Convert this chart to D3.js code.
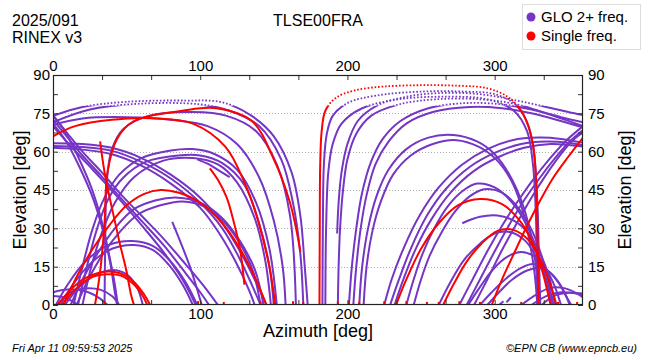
<!DOCTYPE html>
<html><head><meta charset="utf-8">
<script src="https://cdn.jsdelivr.net/npm/d3@7"></script>
<style>body{margin:0;background:#fff}svg{display:block;font-family:"Liberation Sans",Arial,sans-serif}</style>
</head><body><svg id="c" width="650" height="360"></svg>
<script>
// ---- data: satellite tracks as [azimuth, elevation] samples ----
const gloTracks = [
  [[0,74],[20,77.5],[50,79.5],[90,80],[115,79.3],[135,74],[150,66],[162,52],[168,35],[171,15],[173,0]],
  [[0,71.5],[25,76.5],[60,78.8],[100,78.5],[120,76],[140,70],[155,57],[163,40],[168,20],[170,0]],
  [[35,0],[35.5,25],[36.5,48],[40,61],[48,69],[65,74],[95,75.5],[118,74],[138,68],[152,55],[161,35],[165,0]],
  [[0,70.5],[20,73],[50,73.5],[80,72.5],[105,70],[125,63],[140,50],[150,33],[156,15],[158,0]],
  [[14,0],[20,15],[27,30],[35,42],[45,51],[60,57.5],[80,60.5],[95,61],[110,59],[125,53],[138,40],[147,22],[152,0]],
  [[17,0],[23,15],[30,30],[38,42],[48,50],[63,56],[85,58.5],[100,58.5],[115,55.5],[130,47],[140,32],[147,15],[150,0]],
  [[20,0],[26,15],[33,28],[42,40],[55,50],[75,56.5],[95,57.5],[112,55],[125,48],[137,34],[144,18],[148,0]],
  [[98,57],[106,55],[113,52.5],[120,50]],
  [[12,0],[20,10],[30,20],[42,30],[55,37.5],[70,41],[85,42],[100,40],[115,34],[127,25],[137,14],[143,0]],
  [[16,0],[24,10],[34,20],[46,29],[58,35.5],[73,39],[88,40.5],[103,38.5],[117,32],[128,23],[136,13],[141,0]],
  [[81,32.5],[87,24],[93,15],[98,6],[101,0]],
  [[2,0],[10,8],[22,17],[38,23.5],[54,25],[68,23],[80,17],[90,9],[98,0]],
  [[5,0],[13,7.5],[25,16],[40,22],[55,23.5],[68,21.5],[79,15.5],[88,8],[95,0]],
  [[8,0],[18,7],[28,11.5],[40,13.7],[50,12],[57,7],[61,0]],
  [[0,5],[8,6],[16,6],[24,5],[32,2.5],[37,0]],
  [[3,0],[12,5],[22,6.5],[32,6],[40,3.5],[45,0]],
  [[0,3.5],[7,3],[13,1.5],[17,0]],
  [[0,63.3],[20,63],[40,61.5],[60,57.5],[80,51],[100,42],[115,32],[127,21],[137,10],[145,0]],
  [[0,62.2],[20,61.8],[40,60.3],[60,56],[80,49.5],[100,40],[115,30],[126,19],[135,8],[141,0]],
  [[0,61.5],[20,60.8],[40,59],[60,54.5],[80,47.5],[100,38],[113,28],[124,17],[133,6],[137,0]],
  [[0,74.3],[10,67],[20,60],[33,52],[45,44],[60,35],[75,26],[90,16],[103,7],[112,0]],
  [[0,72.5],[10,65.5],[20,58.5],[32,51],[45,42.5],[60,33],[75,23.5],[88,14],[100,5],[106,0]],
  [[0,70],[10,63.5],[22,56],[35,48],[48,39.5],[62,30],[76,20],[88,10],[97,0]],
  [[0,74],[8,68],[17,58],[26,46],[33,33],[38,20],[42,8],[44,0]],
  [[0,71],[9,64],[18,54],[27,42],[34,29],[39,16],[42,5],[43.5,0]],
  [[183,0],[183.3,30],[184,55],[186,67],[190,74],[200,79],[220,82],[250,83.5],[280,83.5],[300,82.5],[315,78],[323,70],[327,58],[329,40],[330,20],[331,0]],
  [[185,0],[185.5,30],[187,52],[190,63],[196,71],[210,77],[235,80.5],[265,81.5],[295,80.5],[313,76],[322,68],[326,55],[328,35],[329,0]],
  [[193,28],[194,40],[196,52],[200,63],[207,72],[220,78],[240,81.5],[265,83],[290,82.5],[315,80],[335,77.5],[350,75.5],[360,74.3]],
  [[193.5,0],[194,15],[195,30],[197,45],[200,57],[206,67],[216,74],[235,78.5],[260,80.5],[290,80.5],[315,78.5],[340,74],[360,70]],
  [[201,0],[203,15],[206,30],[210,44],[216,56],[224,65],[236,72],[255,77],[280,79],[305,78.5],[325,76.5],[345,73.5],[360,71.5]],
  [[204,0],[206,15],[209,30],[213,43],[219,55],[228,64],[240,71],[258,75.5],[283,77.5],[305,77],[325,75],[345,72],[360,69.5]],
  [[208,0],[210,15],[214,30],[220,43],[228,53],[240,61],[255,65.5],[272,66.5],[288,64],[300,59],[310,51],[318,41],[324,29],[328,15],[330,0]],
  [[211,0],[213,15],[217,29],[223,41],[231,51],[243,58.5],[258,63],[274,64.5],[289,62],[301,57],[311,49],[318,39],[323,27],[327,13],[329,0]],
  [[225,0],[230,10],[238,22],[249,35],[262,46],[278,55],[295,61],[312,64.5],[330,65.5],[345,65],[360,63.5]],
  [[229,0],[235,10],[243,22],[254,35],[267,45.5],[283,54],[300,59.5],[318,63],[335,64],[350,63.5],[360,62.5]],
  [[232,0],[238,10],[246,21.5],[257,33.5],[270,44],[286,52.5],[303,58],[320,61.5],[338,63],[360,62]],
  [[240,0],[245,10],[251,20],[259,30],[268,38.5],[278,44.5],[288,47.5],[300,46],[312,40],[322,31],[329,21],[335,10],[339,0]],
  [[245,0],[250,10],[256,19.5],[264,28.5],[273,36.5],[283,42.5],[293,45.3],[305,44],[316,38],[325,29.5],[332,19],[337,8],[339,0]],
  [[278,32],[290,34.5],[302,35],[313,33],[323,28],[331,20],[337,11],[341,0]],
  [[262,0],[270,9],[279,17.5],[290,24],[300,28],[311,28.5],[321,25],[329,18],[335,10],[340,0]],
  [[282,0],[290,7],[299,14],[309,19],[318,20.7],[327,19],[335,14],[341,7],[345,0]],
  [[290,0],[298,5],[308,10.5],[318,14.5],[326,16],[335,14],[343,9],[349,3],[352,0]],
  [[295,0],[303,5],[312,10],[322,13.5],[330,14.5],[338,12.5],[345,7.5],[351,0]],
  [[318,0],[328,4],[338,6.8],[348,6.5],[356,4.5],[360,3]],
  [[325,0],[335,3.5],[345,5],[355,4.5],[360,4]],
  [[332,0],[340,3.5],[350,4.8],[360,4.5]],
  [[276,0],[285,10],[295,21],[305,31],[315,40],[326,49],[337,57],[348,64],[360,70]],
  [[281,0],[290,10],[300,21],[310,31.5],[320,41],[331,50],[341,57.5],[351,64],[360,68.5]],
  [[286,0],[295,10],[305,21.5],[315,32],[325,42],[335,51],[345,59],[353,64.5],[360,67.5]],
  [[303,0],[306,1.5]],[[308,1],[311,3]]
];
const singleTracks = [
  [[28.5,0],[32,13],[35,32],[37,52],[43.5,65],[55,72],[88,76],[111,77],[135,72],[150,57],[161,40],[168,21]],
  [[0,66],[15,70],[40,72.5],[70,73],[95,71],[117,62],[130,48],[139,33.6],[147,15],[151,0]],
  [[32,64],[35,52],[40,38],[45,25],[50,13],[53,4],[55,0]],
  [[7,0],[17,12],[27,22],[38,31],[50,39],[62,43.5],[73,45],[85,44],[100,40],[115,32],[127,22],[137,11],[145,0]],
  [[3,0],[12,6],[22,10.5],[35,13],[45,12.5],[55,9],[62,4],[66,0]],
  [[6,0],[15,6],[25,10.5],[36,12],[46,11.5],[55,8],[61,3.5],[64,0]],
  [[106.5,53.5],[112,49],[118,42],[123,32],[127,22],[130,8]],
  [[181,0],[181.2,30],[181.5,55],[182.5,68],[185,76],[192,81],[205,84],[225,85.5],[250,86],[275,85.8],[295,84.8],[310,81],[320,74],[326,63],[328,50],[329,30],[329.5,10],[330,0]],
  [[233,0],[240,10],[250,22],[262,32],[275,39],[290,41.5],[305,39.5],[317,33],[326,24],[332,14],[336,5],[338,0]],
  [[265,0],[272,8],[281,17],[291,24],[302,29],[312,29.5],[322,26],[330,19],[336,11],[340,4],[342,0]],
  [[298,0],[305,10],[313,20],[322,31],[331,41],[340,50],[350,58],[360,65.5]]
];
// short single-frequency stubs where tracks meet the horizon [az, top elevation]
const singleStubs = [[35,1.5],[98.5,1.5],[116,1.2],[141,1.5],[150,1.2],[163,1.5],[170,1.2],[193.5,1.5],[201,1.5],[208,1.2],[225,1.5],[240,1.5],[254,1.2],[262,1.2],[276,1.5],[290,1.2],[318,1.2],[343,1.2],[356,1.2]];
const azTicks = [0, 100, 200, 300];
const elTicks = [0, 15, 30, 45, 60, 75, 90];
const legendLabels = ["GLO 2+ freq.", "Single freq."];
const titleLeft = ["2025/091", "RINEX v3"];
const station = "TLSE00FRA";
const footerLeft = "Fri Apr 11 09:59:53 2025";
const footerRight = "\u00A9EPN CB (www.epncb.eu)";

// ---- layout ----
const COL_GLO = "#7535c5", COL_SGL = "#ff0000";
const DOT_EL = 78; // above this elevation the sparse samples look dotted
const m = {l:53, r:583, t:75, b:305};
const x = d3.scaleLinear().domain([0,360]).range([m.l,m.r]);
const y = d3.scaleLinear().domain([0,90]).range([m.b,m.t]);
const svg = d3.select("#c");
const FONT = '"Liberation Sans",Arial,sans-serif';

// grid
svg.append("g").selectAll("line").data(elTicks.filter(d=>d>0&&d<90)).join("line")
  .attr("x1",m.l).attr("x2",m.r)
  .attr("y1",d=>Math.round(y(d))+0.5).attr("y2",d=>Math.round(y(d))+0.5)
  .attr("stroke","#b0b0b0").attr("stroke-width",1).attr("stroke-dasharray","1,2");

// clip regions
const defs = svg.append("defs");
defs.append("clipPath").attr("id","lo").append("rect")
  .attr("x",m.l).attr("y",y(DOT_EL)).attr("width",m.r-m.l).attr("height",m.b-y(DOT_EL));
defs.append("clipPath").attr("id","hi").append("rect")
  .attr("x",m.l).attr("y",m.t).attr("width",m.r-m.l).attr("height",y(DOT_EL)-m.t);
defs.append("clipPath").attr("id","pc").append("rect")
  .attr("x",m.l).attr("y",m.t).attr("width",m.r-m.l).attr("height",m.b-m.t);

const line = d3.line().x(d=>x(d[0])).y(d=>y(d[1])).curve(d3.curveCatmullRom.alpha(0.5));
function drawSet(cls, data, col){
  const lo = svg.append("g").attr("clip-path","url(#lo)");
  lo.selectAll("path").data(data).join("path").attr("class",cls)
    .attr("d",line).attr("fill","none").attr("stroke",col).attr("stroke-width",2);
  const hi = svg.append("g").attr("clip-path","url(#hi)");
  hi.selectAll("path").data(data).join("path").attr("class",cls)
    .attr("d",line).attr("fill","none").attr("stroke",col).attr("stroke-width",1.8)
    .attr("stroke-dasharray","1.6,1.9");
}
drawSet("glo", gloTracks, COL_GLO);
drawSet("sgl", singleTracks, COL_SGL);
svg.append("g").attr("clip-path","url(#pc)").selectAll("line").data(singleStubs).join("line")
  .attr("x1",d=>x(d[0])).attr("x2",d=>x(d[0])).attr("y1",y(0)).attr("y2",d=>y(d[1]))
  .attr("stroke",COL_SGL).attr("stroke-width",2);

// axes
const azAll = d3.range(0, 360.001, 100/3);
const elAll = d3.range(0, 90.001, 7.5);
const isMajor = (arr,d) => arr.some(t=>Math.abs(t-d)<1e-6);
const fmtAz = d => isMajor(azTicks,d) ? String(Math.round(d)) : "";
const fmtEl = d => isMajor(elTicks,d) ? String(Math.round(d)) : "";
function styleAxis(g){
  g.select(".domain").remove();
  g.attr("font-family",null).attr("font-size",null);
  g.selectAll("text").style("font-family",FONT).style("font-size","15px").attr("fill","#000");
  g.selectAll("line").attr("stroke","#333");
}
svg.append("g").attr("transform",`translate(0,${m.b})`)
  .call(d3.axisBottom(x).tickValues(azAll.filter(d=>d<359)).tickSize(-5).tickPadding(3).tickFormat(fmtAz)).call(styleAxis);
svg.append("g").attr("transform",`translate(0,${m.t})`)
  .call(d3.axisTop(x).tickValues(azAll.filter(d=>d<359)).tickSize(-5).tickPadding(4).tickFormat(fmtAz)).call(styleAxis);
svg.append("g").attr("transform",`translate(${m.l},0)`)
  .call(d3.axisLeft(y).tickValues(elAll).tickSize(-5).tickPadding(3).tickFormat(fmtEl)).call(styleAxis);
svg.append("g").attr("transform",`translate(${m.r},0)`)
  .call(d3.axisRight(y).tickValues(elAll).tickSize(-5).tickPadding(5).tickFormat(fmtEl)).call(styleAxis);

// frame
svg.append("rect").attr("x",m.l+0.5).attr("y",m.t+0.5).attr("width",m.r-m.l-1).attr("height",m.b-m.t-1)
  .attr("fill","none").attr("stroke","#222").attr("stroke-width",1.2);

// axis titles
svg.append("text").attr("x",(m.l+m.r)/2).attr("y",337).attr("text-anchor","middle")
  .style("font-size","18px").text("Azimuth [deg]");
svg.append("text").attr("transform",`translate(26,${(m.t+m.b)/2}) rotate(-90)`).attr("text-anchor","middle")
  .style("font-size","18px").text("Elevation [deg]");
svg.append("text").attr("transform",`translate(631,${(m.t+m.b)/2}) rotate(-90)`).attr("text-anchor","middle")
  .style("font-size","18px").text("Elevation [deg]");

// titles
svg.selectAll("text.tl").data(titleLeft).join("text").attr("class","tl")
  .attr("x",12).attr("y",(d,i)=>26+i*17).style("font-size","16px").text(d=>d);
svg.append("text").attr("x",318).attr("y",26).attr("text-anchor","middle").style("font-size","16px").text(station);

// legend
const lg = svg.append("g");
lg.append("rect").attr("x",522.5).attr("y",4.5).attr("width",118).attr("height",45)
  .attr("fill","#fff").attr("stroke","#ddd");
const li = lg.selectAll("g").data(legendLabels).join("g")
  .attr("transform",(d,i)=>`translate(531,${17+i*19})`);
li.append("circle").attr("r",4.5).attr("fill",(d,i)=>i?COL_SGL:COL_GLO);
li.append("text").attr("x",10).attr("dy","0.35em").style("font-size","15px").text(d=>d);

// footer
svg.append("text").attr("x",12).attr("y",352).style("font-size","11px").style("font-style","italic").text(footerLeft);
svg.append("text").attr("x",637).attr("y",352).attr("text-anchor","end").style("font-size","11px").style("font-style","italic").text(footerRight);
</script></body></html>
